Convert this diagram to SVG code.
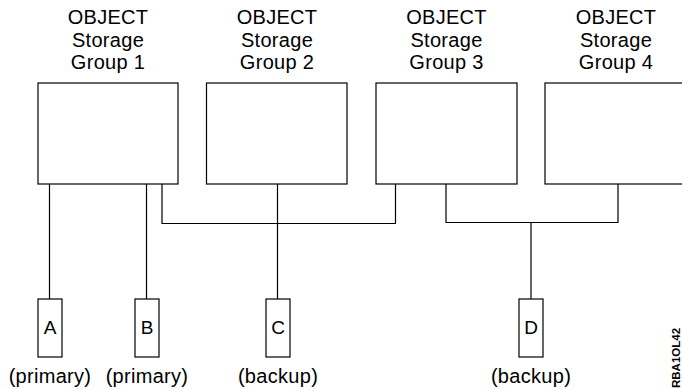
<svg xmlns="http://www.w3.org/2000/svg" width="682" height="389" viewBox="0 0 682 389">
<style>
.box{fill:#fff;stroke:#000;stroke-width:1.2}
.ln{fill:none;stroke:#000;stroke-width:1.2}
.t{font-family:"Liberation Sans",Arial,sans-serif;font-size:20px;fill:#000;text-anchor:middle;letter-spacing:0.3px}
.l{font-family:"Liberation Sans",Arial,sans-serif;font-size:19px;fill:#000;text-anchor:middle}
.id{font-family:"Liberation Sans",Arial,sans-serif;font-size:11.5px;font-weight:bold;fill:#000}
</style>
<rect width="682" height="389" fill="#fff"/>
<g id="connectors">
<path class="ln" d="M49.5 184V299"/>
<path class="ln" d="M146.5 184V299"/>
<path class="ln" d="M162 184V223.5H395.5V184"/>
<path class="ln" d="M277.5 184V299"/>
<path class="ln" d="M446 184V222.5H618V184"/>
<path class="ln" d="M531 222.5V299"/>
</g>
<g id="group1">
<text class="t" x="108" y="24">OBJECT</text>
<text class="t" x="108" y="47">Storage</text>
<text class="t" x="108" y="69">Group 1</text>
<rect class="box" x="38" y="83" width="140" height="101"/>
</g>
<g id="group2">
<text class="t" x="277" y="24">OBJECT</text>
<text class="t" x="277" y="47">Storage</text>
<text class="t" x="277" y="69">Group 2</text>
<rect class="box" x="206.5" y="83" width="140.5" height="101"/>
</g>
<g id="group3">
<text class="t" x="446.5" y="24">OBJECT</text>
<text class="t" x="446.5" y="47">Storage</text>
<text class="t" x="446.5" y="69">Group 3</text>
<rect class="box" x="376" y="83" width="141" height="101"/>
</g>
<g id="group4">
<text class="t" x="616" y="24">OBJECT</text>
<text class="t" x="616" y="47">Storage</text>
<text class="t" x="616" y="69">Group 4</text>
<rect class="box" x="545" y="83" width="141" height="101"/>
</g>
<g id="nodeA">
<rect class="box" x="38" y="299" width="24" height="58"/>
<text class="l" x="50" y="334">A</text>
<text class="t" x="50" y="383">(primary)</text>
</g>
<g id="nodeB">
<rect class="box" x="135" y="299" width="24" height="58"/>
<text class="l" x="147" y="334">B</text>
<text class="t" x="147" y="383">(primary)</text>
</g>
<g id="nodeC">
<rect class="box" x="266" y="299" width="24" height="58"/>
<text class="l" x="278" y="334">C</text>
<text class="t" x="278" y="383">(backup)</text>
</g>
<g id="nodeD">
<rect class="box" x="519" y="299" width="24" height="58"/>
<text class="l" x="531" y="334">D</text>
<text class="t" x="531" y="383">(backup)</text>
</g>
<text class="id" transform="translate(680 388) rotate(-90)">RBA1OL42</text>
</svg>
